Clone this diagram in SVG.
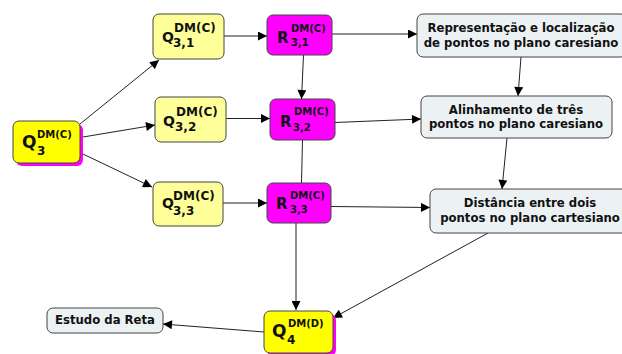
<svg xmlns="http://www.w3.org/2000/svg" width="622" height="354" viewBox="0 0 622 354">
<defs>
<marker id="ah" viewBox="0 0 10 10" refX="10" refY="5" markerWidth="10" markerHeight="9" markerUnits="userSpaceOnUse" orient="auto">
<path d="M0,0 L10,5 L0,10 Z" fill="#000"/>
</marker>
<style>
.box{stroke:#444;stroke-width:1}
.qy{fill:#FFFF00}
.ql{fill:#FFFF99}
.r{fill:#FF00FF}
.t{fill:#ECF2F4}
.sh{fill:#FF00FF}
text{font-family:"DejaVu Sans","Verdana",sans-serif;font-weight:bold;fill:#111}
.lab{font-size:11.7px;text-anchor:middle}
.big{font-size:14px}
.bigR{font-size:15px}
.bigQ{font-size:17px}
.sup{font-size:12px}
.sup2{font-size:10px}
.c line{stroke:#222;stroke-width:1}
.c .a{marker-end:url(#ah)}
</style>
</defs>
<rect width="622" height="354" fill="#fff"/>
<g class="c">
<line class="a" x1="80" y1="124" x2="159" y2="60"/>
<line class="a" x1="83" y1="137" x2="155" y2="125"/>
<line class="a" x1="83" y1="154" x2="152" y2="187"/>
<line class="a" x1="224" y1="36" x2="267" y2="36"/>
<line class="a" x1="226" y1="118.5" x2="270" y2="118.5"/>
<line class="a" x1="223" y1="203" x2="267" y2="203"/>
<line class="a" x1="303.5" y1="55" x2="301.5" y2="99"/>
<line x1="302.5" y1="140" x2="301.5" y2="183"/>
<line class="a" x1="296" y1="223" x2="296" y2="310"/>
<line class="a" x1="264" y1="332" x2="163" y2="324"/>
<line class="a" x1="332" y1="34" x2="417" y2="34"/>
<line class="a" x1="335" y1="122.5" x2="421" y2="119"/>
<line class="a" x1="331" y1="206.5" x2="430" y2="207.5"/>
<line class="a" x1="521" y1="57" x2="518" y2="96"/>
<line class="a" x1="507" y1="138" x2="502" y2="189"/>
<line class="a" x1="488" y1="233" x2="333" y2="318"/>
</g>
<g id="Q3">
<rect class="sh" x="16" y="124" width="67" height="42" rx="6"/>
<rect class="box qy" x="13" y="121" width="67" height="42" rx="6"/>
<text class="bigQ" x="22" y="148">Q</text>
<text class="sup2" x="37" y="138">DM(C)</text>
<text class="sup" x="37" y="155">3</text>
</g>
<g id="Q31">
<rect class="box ql" x="153" y="14" width="71" height="45" rx="6"/>
<text class="big" x="162" y="42">Q</text>
<text class="sup" x="174" y="32">DM(C)</text>
<text class="sup" x="173" y="47">3,1</text>
</g>
<g id="Q32">
<rect class="box ql" x="155" y="97" width="71" height="45" rx="6"/>
<text class="big" x="163" y="126">Q</text>
<text class="sup" x="176" y="116">DM(C)</text>
<text class="sup" x="175" y="131">3,2</text>
</g>
<g id="Q33">
<rect class="box ql" x="153" y="182" width="70" height="44" rx="6"/>
<text class="big" x="162" y="208">Q</text>
<text class="sup" x="173" y="200">DM(C)</text>
<text class="sup" x="173" y="215">3,3</text>
</g>
<g id="R31">
<rect class="box r" x="267" y="15" width="65" height="40" rx="6"/>
<text class="bigR" x="277" y="43">R</text>
<text class="sup2" x="291" y="32">DM(C)</text>
<text class="sup2" x="291" y="46">3,1</text>
</g>
<g id="R32">
<rect class="box r" x="270" y="99" width="65" height="41" rx="6"/>
<text class="bigR" x="280" y="127">R</text>
<text class="sup2" x="294" y="115">DM(C)</text>
<text class="sup2" x="293" y="131">3,2</text>
</g>
<g id="R33">
<rect class="box r" x="267" y="183" width="64" height="40" rx="6"/>
<text class="bigR" x="276" y="209">R</text>
<text class="sup2" x="290" y="199">DM(C)</text>
<text class="sup2" x="290" y="213">3,3</text>
</g>
<g id="Q4">
<rect class="sh" x="267" y="314" width="69" height="42" rx="6"/>
<rect class="box qy" x="264" y="311" width="69" height="42" rx="6"/>
<text class="bigQ" x="272" y="337">Q</text>
<text class="sup2" x="288" y="327">DM(D)</text>
<text class="sup" x="287" y="344">4</text>
</g>
<g id="Estudo">
<rect class="box t" x="47" y="308" width="116" height="25" rx="6"/>
<text class="lab" x="105" y="324">Estudo da Reta</text>
</g>
<g id="Representacao">
<rect class="box t" x="417" y="14" width="210" height="43" rx="6"/>
<text class="lab" x="521" y="32">Representação e localização</text>
<text class="lab" x="521" y="47">de pontos no plano caresiano</text>
</g>
<g id="Alinhamento">
<rect class="box t" x="421" y="96" width="191" height="42" rx="6"/>
<text class="lab" x="516" y="114">Alinhamento de três</text>
<text class="lab" x="516" y="128">pontos no plano caresiano</text>
</g>
<g id="Distancia">
<rect class="box t" x="430" y="189" width="200" height="44" rx="6"/>
<text class="lab" x="530" y="207">Distância entre dois</text>
<text class="lab" x="530" y="222">pontos no plano cartesiano</text>
</g>
</svg>
